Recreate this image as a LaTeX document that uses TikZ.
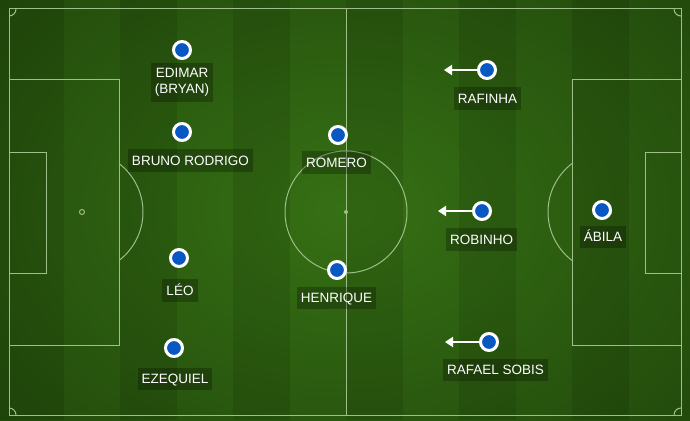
\documentclass[tikz,border=0pt]{standalone}
\usepackage{fontspec}
\setmainfont{Liberation Sans}
\usetikzlibrary{arrows.meta}
\definecolor{fieldin}{RGB}{54,112,20}
\definecolor{fieldout}{RGB}{34,74,12}
\definecolor{pitchline}{RGB}{158,190,138}
\definecolor{playerblue}{RGB}{8,88,196}
\tikzset{
  pline/.style={draw=pitchline, line width=1},
  player/.style={circle, fill=playerblue, draw=white, line width=3, minimum size=17, inner sep=0},
  plabelbase/.style={fill=black, fill opacity=0.25, text opacity=1, text=white,
    font=\fontsize{13.5}{16}\selectfont, inner xsep=4},
  plabel/.style={plabelbase, inner ysep=6.5, text height=9.7, text depth=0},
  runarrow/.style={draw=white, line width=2.8, -{Triangle[length=8,width=10]}}
}
\begin{document}
\begin{tikzpicture}[x=1pt,y=-1pt]
\useasboundingbox (0,0) rectangle (690,420);
% grass
\shade[inner color=fieldin, outer color=fieldout] (-120,-120) rectangle (810,540);
\foreach \i in {0,2,...,10}
  \fill[black, opacity=0.09] ({7+\i*56.5},0) rectangle ({7+(\i+1)*56.5},420);
\fill[black, opacity=0.09] (0,0) rectangle (7,420);
% pitch lines
\draw[pline] (9,9) rectangle (681,415);
\draw[pline] (346,9) -- (346,415);
\draw[pline] (346,212) circle[radius=61];
\fill[pitchline] (346,212) circle[radius=2];
\draw[pline] (9,79) rectangle (119,345);
\draw[pline] (9,152) rectangle (46,273);
\draw[pline] (82,212) circle[radius=2.5];
\draw[pline] (572,79) rectangle (681,345);
\draw[pline] (645,152) rectangle (681,273);
\draw[pline] (609,212) circle[radius=2.5];
\begin{scope}
  \clip (119,0) rectangle (346,420);
  \draw[pline] (82,212) circle[radius=61];
\end{scope}
\begin{scope}
  \clip (346,0) rectangle (572,420);
  \draw[pline] (609,212) circle[radius=61];
\end{scope}
\begin{scope}
  \clip (9,9) rectangle (681,415);
  \foreach \cx/\cy in {9/9,681/9,9/415,681/415}
    \draw[pline] (\cx,\cy) circle[radius=7];
\end{scope}
% labels
\node[plabelbase, align=center, minimum width=60, minimum height=39, inner ysep=3] (lEdimar) at (182,82.5) {EDIMAR\\(BRYAN)};
\node[plabel] (lBruno) at (190.5,160.5) {BRUNO RODRIGO};
\node[plabel] (lRomero) at (336.5,162.5) {ROMERO};
\node[plabel] (lHenrique) at (336.5,298) {HENRIQUE};
\node[plabel] (lRafinha) at (487.5,98.5) {RAFINHA};
\node[plabel] (lRobinho) at (481.5,239.5) {ROBINHO};
\node[plabel] (lSobis) at (495.5,370) {RAFAEL SOBIS};
\node[plabel] (lAbila) at (603,237) {ÁBILA};
\node[plabel] (lLeo) at (180,290.5) {LÉO};
\node[plabel] (lEzequiel) at (175,379) {EZEQUIEL};
% players
\node[player] (pEdimar) at (182,50) {};
\node[player] (pBruno) at (182,132) {};
\node[player] (pRomero) at (338,135) {};
\node[player] (pHenrique) at (337,270) {};
\node[player] (pRafinha) at (487,70) {};
\node[player] (pRobinho) at (482,211) {};
\node[player] (pSobis) at (489,342) {};
\node[player] (pAbila) at (602,210) {};
\node[player] (pLeo) at (179,258) {};
\node[player] (pEzequiel) at (174,348) {};
% runs
\coordinate (tRafinha) at (444,70);
\coordinate (tRobinho) at (438,211);
\coordinate (tSobis) at (445,342);
\draw[runarrow] (pRafinha.west) -- (tRafinha);
\draw[runarrow] (pRobinho.west) -- (tRobinho);
\draw[runarrow] (pSobis.west) -- (tSobis);
\end{tikzpicture}
\end{document}
